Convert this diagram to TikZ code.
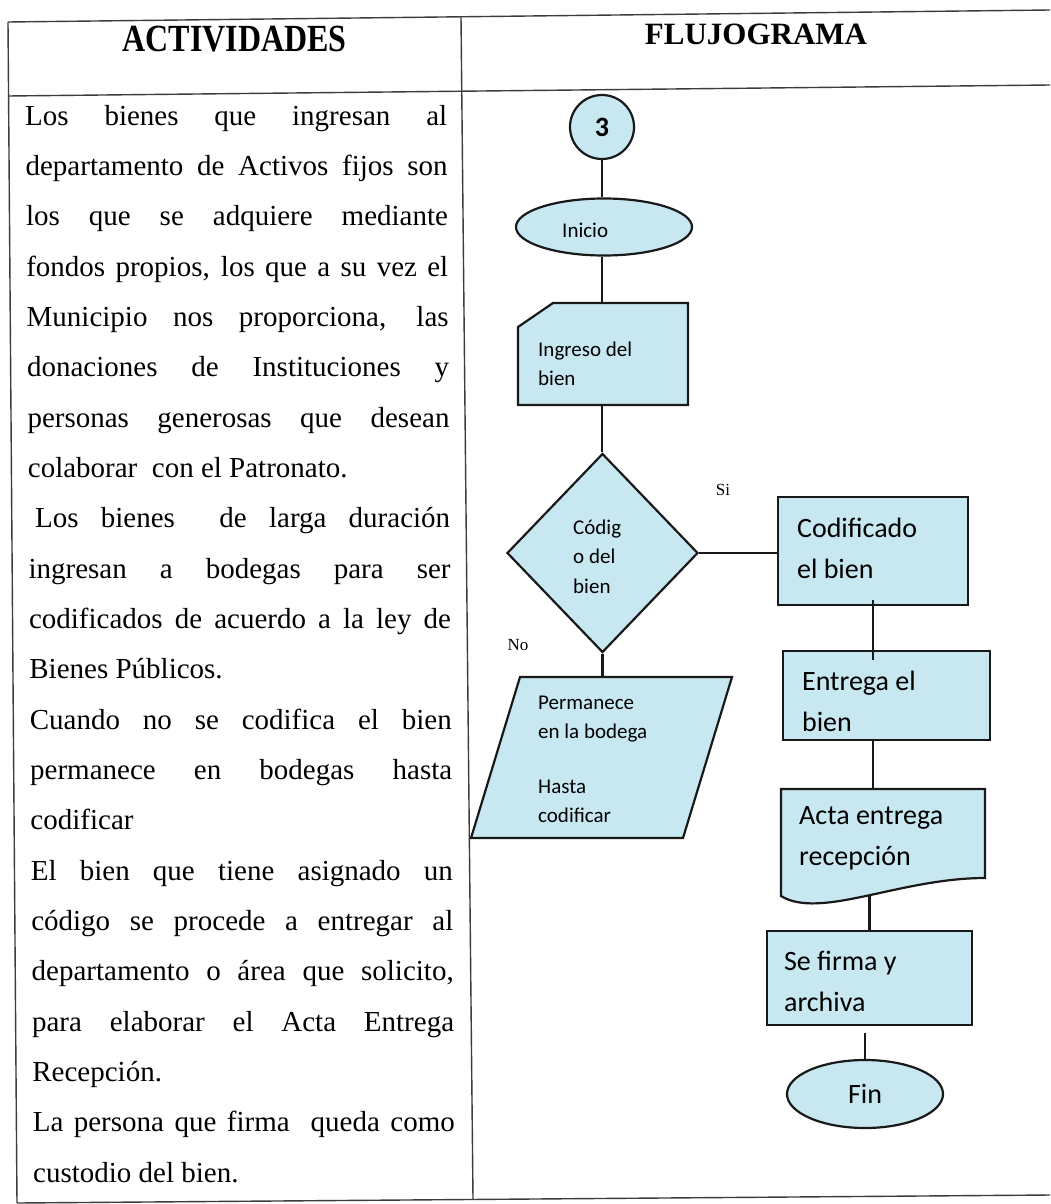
\documentclass[tikz,border=0pt]{standalone}
\usepackage{fontspec}
\usepackage{graphicx}
\setmainfont{Liberation Serif}
\newfontfamily\flowfont{Carlito}
\usetikzlibrary{shapes.geometric,calc}
\definecolor{boxfill}{RGB}{200,232,241}
\definecolor{ink}{RGB}{25,25,25}
\begin{document}
\begin{tikzpicture}[x=1pt,y=-1pt,
  tline/.style={line width=1.4pt, draw=ink!85},
  conn/.style={line width=2.2pt, draw=ink},
  shapeout/.style={line width=2.2pt, draw=ink, fill=boxfill},
  area/.style={inner sep=0pt, outer sep=0pt},
  procbox/.style={rectangle, shapeout, inner sep=0pt},
  txt/.style={inner sep=0pt, anchor=base west, font=\fontsize{29}{50}\selectfont},
  small/.style={inner sep=0pt, anchor=west, align=left, font=\flowfont\fontsize{21}{29.5}\selectfont},
  big/.style={inner sep=0pt, anchor=west, align=left, font=\flowfont\fontsize{28}{41}\selectfont},
  lbl/.style={inner sep=0pt, font=\fontsize{17}{17}\selectfont}
]
\fill[white] (0,0) rectangle (1050,1204);
\useasboundingbox (0,0) rectangle (1050,1204);

% table
\draw[tline] (8,22) -- (1050,10);
\draw[tline] (8,96) -- (1050,85);
\draw[tline] (8,22) -- (17,1203);
\draw[tline] (461,17) -- (473,1199);
\draw[tline] (17,1203) -- (1050,1195);

% headers
\node[area, font=\bfseries\fontsize{32}{32}\selectfont] (h1) at (234.5,39.5) {\scalebox{1}[1.2]{ACTIVIDADES}};
\node[area, font=\bfseries\fontsize{31}{31}\selectfont] (h2) at (756,34) {FLUJOGRAMA};

% activities text
\node[txt] (l0) at (25.0,125.0) {\makebox[422pt][s]{Los bienes que ingresan al}};
\node[txt] (l1) at (25.4,175.3) {\makebox[422pt][s]{departamento de Activos fijos son}};
\node[txt] (l2) at (25.8,225.7) {\makebox[422pt][s]{los que se adquiere mediante}};
\node[txt] (l3) at (26.1,276.0) {\makebox[422pt][s]{fondos propios, los que a su vez el}};
\node[txt] (l4) at (26.5,326.3) {\makebox[422pt][s]{Municipio nos proporciona, las}};
\node[txt] (l5) at (26.9,376.7) {\makebox[422pt][s]{donaciones de Instituciones y}};
\node[txt] (l6) at (27.3,427.0) {\makebox[422pt][s]{personas generosas que desean}};
\node[txt] (l7) at (27.7,477.3) {colaborar\ \ con el Patronato.};
\node[txt] (l8) at (28.0,527.6) {\makebox[422pt][s]{\kern7pt Los bienes\ \ de larga duración}};
\node[txt] (l9) at (28.4,578.0) {\makebox[422pt][s]{ingresan a bodegas para ser}};
\node[txt] (l10) at (28.8,628.3) {\makebox[422pt][s]{codificados de acuerdo a la ley de}};
\node[txt] (l11) at (29.2,678.6) {Bienes Públicos.};
\node[txt] (l12) at (29.6,729.0) {\makebox[422pt][s]{Cuando no se codifica el bien}};
\node[txt] (l13) at (30.0,779.3) {\makebox[422pt][s]{permanece en bodegas hasta}};
\node[txt] (l14) at (30.3,829.6) {codificar};
\node[txt] (l15) at (30.7,880.0) {\makebox[422pt][s]{El bien que tiene asignado un}};
\node[txt] (l16) at (31.1,930.3) {\makebox[422pt][s]{código se procede a entregar al}};
\node[txt] (l17) at (31.5,980.6) {\makebox[422pt][s]{departamento o área que solicito,}};
\node[txt] (l18) at (31.9,1031.0) {\makebox[422pt][s]{para elaborar el Acta Entrega}};
\node[txt] (l19) at (32.2,1081.3) {Recepción.};
\node[txt] (l20) at (32.6,1131.6) {\makebox[422pt][s]{La persona que firma\ \ queda como}};
\node[txt] (l21) at (33.0,1182.0) {custodio del bien.};

% flowchart
\node[circle, shapeout, minimum size=64pt, inner sep=0pt, font=\flowfont\bfseries\fontsize{28}{28}\selectfont] (c3) at (602,127) {3};

\node[ellipse, shapeout, minimum width=176pt, minimum height=57pt, inner sep=0pt] (ini) at (604,227) {};
\node[small] (ini-t) at ([xshift=-42pt,yshift=-3pt]ini.center) {Inicio};

\node[area, minimum width=170pt, minimum height=102pt] (ing) at (603,354) {};
\filldraw[shapeout] ([yshift=-24pt]ing.north west) -- ([xshift=35pt]ing.north west) -- (ing.north east) -- (ing.south east) -- (ing.south west) -- cycle;
\node[small] (ing-t) at ([xshift=20pt,yshift=-10pt]ing.west) {Ingreso del\\bien};

\node[diamond, shapeout, minimum width=191pt, minimum height=199pt, inner sep=0pt] (dia) at (602.5,553) {};
\node[small] (dia-t) at ([xshift=-29.5pt,yshift=-3.5pt]dia.center) {Códig\\o del\\bien};

\node[area, minimum width=212pt, minimum height=161pt] (perm) at (601.5,757.5) {};
\filldraw[shapeout] ([xshift=24.5pt]perm.north west) -- ([xshift=24.5pt]perm.north east) -- ([xshift=-24.5pt]perm.south east) -- ([xshift=-24.5pt]perm.south west) -- cycle;
\node[small] (perm-t) at ([xshift=42.5pt,yshift=-2pt]perm.west) {Permanece\\en la bodega\\[25pt]Hasta\\codificar};

\node[procbox, minimum width=190pt, minimum height=108pt] (cod) at (873,551) {};
\node[big] (cod-t) at ([xshift=20pt,yshift=3pt]cod.west) {Codificado\\el bien};

\node[procbox, minimum width=207pt, minimum height=89pt] (ent) at (886.5,695.5) {};
\node[big] (ent-t) at ([xshift=20pt,yshift=-5.5pt]ent.west) {Entrega el\\bien};

\node[area, minimum width=204pt, minimum height=107pt] (acta) at (883,842.5) {};
\filldraw[shapeout] (acta.south west) -- (acta.north west) -- (acta.north east) -- ([yshift=18pt]acta.south east) .. controls ([xshift=-85pt,yshift=18pt]acta.south east) and ([xshift=39pt,yshift=-24pt]acta.south west) .. (acta.south west) -- cycle;
\node[big] (acta-t) at ([xshift=18pt,yshift=4.5pt]acta.west) {Acta entrega\\recepción};

\node[procbox, minimum width=205pt, minimum height=94pt] (firma) at (869.5,978) {};
\node[big] (firma-t) at ([xshift=18pt,yshift=-3pt]firma.west) {Se firma y\\archiva};

\node[ellipse, shapeout, minimum width=156pt, minimum height=68pt, inner sep=0pt, font=\flowfont\fontsize{28}{28}\selectfont] (fin) at (865,1094) {Fin};

\node[lbl] (si) at (723,490) {Si};
\node[lbl] (no) at (518,645) {No};

% connectors
\draw[conn] (c3.south) -- (c3.south |- ini.north);
\draw[conn] (ini.south -| c3.south) -- (ing.north -| c3.south);
\draw[conn] (ing.south -| c3.south) -- (dia.north -| c3.south);
\draw[conn] (dia.south) -- (dia.south |- perm.north);
\draw[conn] (dia.east) -- (dia.east -| cod.west);
\draw[conn, shorten <=-6pt, shorten >=-10pt] (cod.south) -- (cod.south |- ent.north);
\draw[conn] (ent.south -| cod.south) -- (acta.north -| cod.south);
\draw[conn] (firma.north) -- (firma.north |- acta.south);
\coordinate (finin) at ([yshift=26pt]fin.north);
\draw[conn] (finin) -- (fin.north);
\end{tikzpicture}
\end{document}
